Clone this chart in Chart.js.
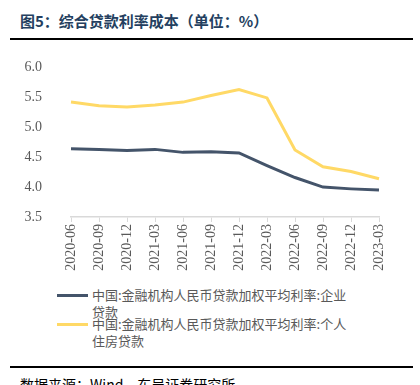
<!DOCTYPE html>
<html>
<head>
<meta charset="utf-8">
<script src="https://cdn.jsdelivr.net/npm/chart.js@4"></script>
<style>
  body { margin:0; width:420px; height:385px; overflow:hidden; background:#fff; position:relative; font-family:"Noto Sans CJK SC", sans-serif; }
  .title { position:absolute; left:20px; top:10px; font-size:15px; font-weight:bold; color:#243f60; white-space:nowrap; }
  .rule { position:absolute; left:10px; width:403px; background:#000; }
  #wrap { position:absolute; left:0; top:38px; width:420px; height:247px; }
  .leg { position:absolute; left:0; top:0; }
  .leg .swatch { position:absolute; left:57px; width:31px; height:3px; }
  .leg .txt { position:absolute; left:92px; font-size:13px; line-height:17px; color:#595959; white-space:nowrap; }
  .foot { position:absolute; left:20px; top:374px; font-size:14px; color:#000; white-space:nowrap; }
</style>
</head>
<body>
<div class="title">图5：综合贷款利率成本（单位：%）</div>
<div id="wrap"><canvas id="c"></canvas></div>
<div class="rule" style="top:38px;height:1.5px;"></div>
<div class="leg">
  <div class="swatch" style="top:294px;background:#44546a;"></div>
  <div class="txt" style="top:286px;">中国:金融机构人民币贷款加权平均利率:企业<br>贷款</div>
  <div class="swatch" style="top:323px;background:#ffd966;"></div>
  <div class="txt" style="top:315px;">中国:金融机构人民币贷款加权平均利率:个人<br>住房贷款</div>
</div>
<div class="rule" style="top:366px;height:2px;"></div>
<div class="foot">数据来源：Wind，东吴证券研究所</div>
<script>
const quarters = ["2020-06","2020-09","2020-12","2021-03","2021-06","2021-09","2021-12","2022-03","2022-06","2022-09","2022-12","2023-03"];
const corpLoanRate = [4.64, 4.63, 4.61, 4.63, 4.58, 4.59, 4.57, 4.36, 4.16, 4.00, 3.97, 3.95];
const mortgageRate = [5.42, 5.36, 5.34, 5.37, 5.42, 5.53, 5.63, 5.49, 4.62, 4.34, 4.26, 4.14];
const yTicks = [3.5, 4.0, 4.5, 5.0, 5.5, 6.0];

new Chart(document.getElementById("c"), {
  type: "line",
  data: {
    labels: quarters,
    datasets: [
      { label: "中国:金融机构人民币贷款加权平均利率:企业贷款", data: corpLoanRate, borderColor: "#44546a", borderWidth: 3, pointRadius: 0, tension: 0 },
      { label: "中国:金融机构人民币贷款加权平均利率:个人住房贷款", data: mortgageRate, borderColor: "#ffd966", borderWidth: 3, pointRadius: 0, tension: 0 }
    ]
  },
  options: {
    responsive: true,
    maintainAspectRatio: false,
    animation: false,
    layout: { padding: { left: 0, right: 41, top: 14, bottom: 0 } },
    plugins: { legend: { display: false }, tooltip: { enabled: false } },
    scales: {
      x: {
        grid: { drawOnChartArea: false, tickLength: 5, color: "#d9d9d9" },
        border: { color: "#d9d9d9", width: 1.5 },
        ticks: { minRotation: 90, maxRotation: 90, color: "#595959", padding: 2,
                 font: { family: "'Liberation Serif', serif", size: 14 } },
        afterFit: s => { s.height = 68; }
      },
      y: {
        min: yTicks[0], max: yTicks[yTicks.length - 1],
        grid: { display: false },
        border: { display: false },
        ticks: { stepSize: 0.5, color: "#595959", padding: 21,
                 font: { family: "'Liberation Serif', serif", size: 14 },
                 callback: v => v.toFixed(1) },
        afterFit: s => { s.width = 71; }
      }
    }
  }
});
</script>
</body>
</html>
